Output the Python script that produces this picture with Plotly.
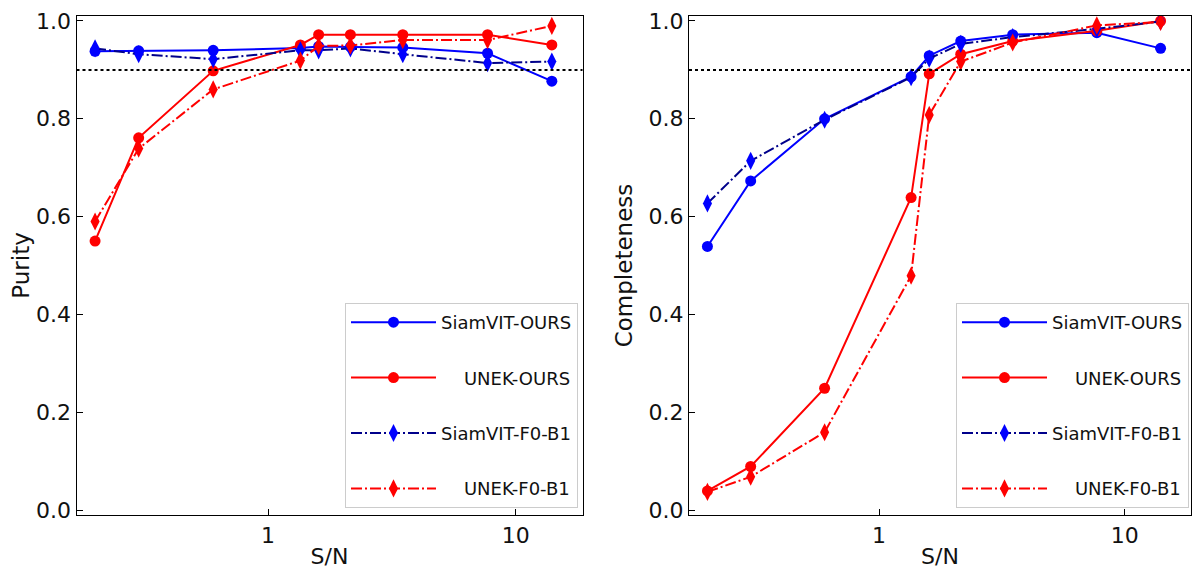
import plotly.graph_objects as go
from plotly.subplots import make_subplots

sn = [0.2, 0.3, 0.6, 1.35, 1.6, 2.15, 3.5, 7.7, 14.0]

purity_siamvit_ours = [0.938, 0.939, 0.940, 0.945, 0.948, 0.947, 0.946, 0.934, 0.877]
purity_unek_ours = [0.550, 0.761, 0.898, 0.951, 0.972, 0.972, 0.972, 0.972, 0.951]
purity_siamvit_f0b1 = [0.944, 0.932, 0.922, 0.940, 0.940, 0.944, 0.932, 0.914, 0.917]
purity_unek_f0b1 = [0.590, 0.739, 0.860, 0.919, 0.949, 0.950, 0.961, 0.961, 0.990]

comp_siamvit_ours = [0.539, 0.673, 0.800, 0.886, 0.929, 0.959, 0.972, 0.976, 0.944]
comp_unek_ours = [0.039, 0.089, 0.249, 0.639, 0.892, 0.932, 0.959, 0.980, 1.000]
comp_siamvit_f0b1 = [0.627, 0.714, 0.798, 0.885, 0.923, 0.953, 0.967, 0.984, 0.999]
comp_unek_f0b1 = [0.037, 0.068, 0.159, 0.479, 0.808, 0.917, 0.956, 0.991, 0.998]

names = ["SiamVIT-OURS", "UNEK-OURS", "SiamVIT-F0-B1", "UNEK-F0-B1"]
x_ticks = [1, 10]
x_ticktext = ["1", "10"]
y_ticks = [0.0, 0.2, 0.4, 0.6, 0.8, 1.0]
threshold = 0.9

FONT = "DejaVu Sans"
DASHDOT = "11px,3px,2px,3px"

# the page body has an 8px margin; the figure is sized to fill the rest of the window
OFF = 8
W, H = 1200 - OFF, 574 - OFF


def px_x(p):
    return (p - OFF) / W


def px_y(p):
    return 1 - (p - OFF) / H


# legend labels are right-aligned in the reference: pad the shorter ones
legend_pad = ["", "\u00a0" * 4, "", "\u00a0" * 4]

styles = [
    dict(line=dict(color="#0000ff", width=2), marker=dict(symbol="circle", size=11, color="#0000ff")),
    dict(line=dict(color="#ff0000", width=2), marker=dict(symbol="circle", size=11, color="#ff0000")),
    dict(line=dict(color="#00008b", width=2, dash=DASHDOT), marker=dict(symbol="diamond-tall", size=13, color="#0000ff")),
    dict(line=dict(color="#ff0000", width=2, dash=DASHDOT), marker=dict(symbol="diamond-tall", size=13, color="#ff0000")),
]

fig = make_subplots(rows=1, cols=2)

left_series = [purity_siamvit_ours, purity_unek_ours, purity_siamvit_f0b1, purity_unek_f0b1]
right_series = [comp_siamvit_ours, comp_unek_ours, comp_siamvit_f0b1, comp_unek_f0b1]

for i, (name, ys) in enumerate(zip(names, left_series)):
    fig.add_trace(go.Scatter(x=sn, y=ys, mode="lines+markers", name=legend_pad[i] + name,
                             legend="legend", legendgroup="L%d" % i, **styles[i]), row=1, col=1)
for i, (name, ys) in enumerate(zip(names, right_series)):
    fig.add_trace(go.Scatter(x=sn, y=ys, mode="lines+markers", name=legend_pad[i] + name,
                             legend="legend2", legendgroup="R%d" % i, **styles[i]), row=1, col=2)

for c in (1, 2):
    fig.add_hline(y=threshold, line=dict(color="black", width=2, dash="dot"), row=1, col=c)

axis_common = dict(showline=True, linecolor="black", linewidth=1.3, mirror=True,
                   ticks="inside", ticklen=6, tickwidth=1.3, tickcolor="black",
                   showgrid=False, zeroline=False, automargin=False,
                   ticklabeloverflow="allow",
                   tickfont=dict(family=FONT, size=22, color="#111111"))

fig.update_xaxes(type="log", range=[-0.774, 1.27], tickvals=x_ticks, ticktext=x_ticktext,
                 title=dict(text="S/N", font=dict(family=FONT, size=22, color="#111111"), standoff=2),
                 **axis_common)
fig.update_yaxes(range=[-0.0102, 1.0102], tickvals=y_ticks, ticktext=["%.1f" % v for v in y_ticks],
                 **axis_common)
fig.update_yaxes(title=dict(text="Purity", font=dict(family=FONT, size=23, color="#111111"), standoff=9),
                 row=1, col=1)
fig.update_yaxes(title=dict(text="Completeness", font=dict(family=FONT, size=23, color="#111111"), standoff=9),
                 row=1, col=2)

fig.update_layout(
    xaxis=dict(domain=[px_x(76.5), px_x(582.5)]),
    xaxis2=dict(domain=[px_x(689), px_x(1191)]),
    yaxis=dict(domain=[px_y(515), px_y(16)]),
    yaxis2=dict(domain=[px_y(515), px_y(16)]),
)

legend_common = dict(font=dict(family=FONT, size=18, color="#111111"),
                     bgcolor="white", bordercolor="#cccccc", borderwidth=1,
                     tracegroupgap=29, itemwidth=85, xanchor="right", yanchor="bottom",
                     traceorder="grouped")
fig.update_layout(
    width=W, height=H,
    margin=dict(l=0, r=0, t=0, b=0),
    paper_bgcolor="white", plot_bgcolor="white",
    legend=dict(x=px_x(578), y=px_y(508), **legend_common),
    legend2=dict(x=px_x(1189), y=px_y(508), **legend_common),
)

fig.write_html("out.html")
